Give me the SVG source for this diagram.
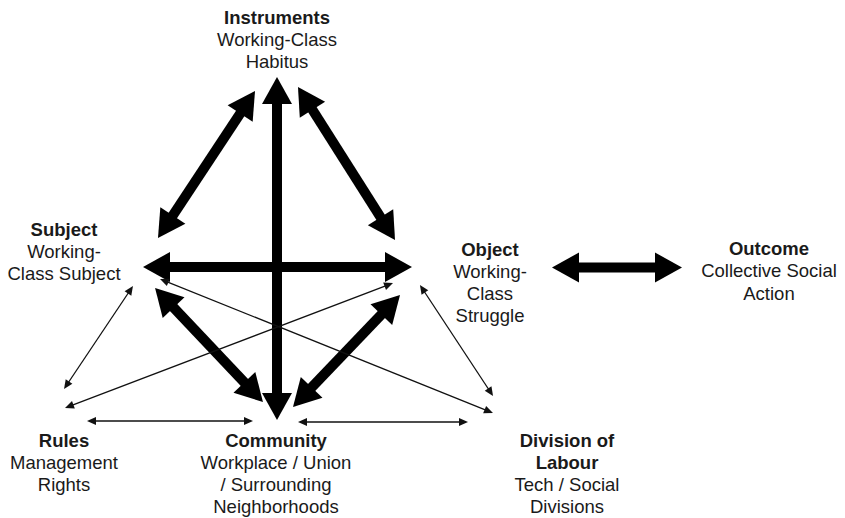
<svg xmlns="http://www.w3.org/2000/svg" width="845" height="518" viewBox="0 0 845 518">
<style>
text{font-family:"Liberation Sans",Arial,sans-serif;font-size:18.5px;fill:#1a1a1a;text-anchor:middle}
.b{font-weight:bold}
.thick{stroke:#000;stroke-width:10;fill:none;marker-start:url(#hb);marker-end:url(#hb)}
.thin{stroke:#111;stroke-width:1.3;fill:none;marker-start:url(#hs);marker-end:url(#hs)}
</style>
<defs>
<marker id="hb" markerUnits="userSpaceOnUse" markerWidth="30" markerHeight="32" viewBox="0 -16 28 32" refX="7" refY="0" orient="auto-start-reverse" overflow="visible">
<path d="M0,-15 L27,0 L0,15 z" fill="#000"/>
</marker>
<marker id="hs" markerUnits="userSpaceOnUse" markerWidth="10" markerHeight="10" viewBox="0 -5 10 10" refX="6" refY="0" orient="auto-start-reverse" overflow="visible">
<path d="M0,-4 L9,0 L0,4 z" fill="#111"/>
</marker>
</defs>
<rect width="845" height="518" fill="#fff"/>
<g id="connectors">
<line class="thick" x1="277" y1="97" x2="277" y2="400"/>
<line class="thick" x1="163" y1="267" x2="392" y2="267"/>
<line class="thick" x1="244" y1="107.7" x2="169" y2="221.3"/>
<line class="thick" x1="308.7" y1="103.9" x2="384.3" y2="223.1"/>
<line class="thick" x1="168.8" y1="302.5" x2="249.2" y2="387.5"/>
<line class="thick" x1="386.2" y1="309.5" x2="306.8" y2="392.5"/>
<line class="thick" x1="572" y1="267.5" x2="662" y2="267.5"/>
<line class="thin" x1="131.3" y1="288.5" x2="65.7" y2="386.5"/>
<line class="thin" x1="390.2" y1="284.1" x2="67.8" y2="406.9"/>
<line class="thin" x1="162.8" y1="280.1" x2="490.2" y2="411.9"/>
<line class="thin" x1="421.6" y1="287.5" x2="491.4" y2="393.5"/>
<line class="thin" x1="90" y1="421" x2="250" y2="421"/>
<line class="thin" x1="301" y1="422" x2="465" y2="422"/>
</g>
<g id="instruments">
<text class="b" x="277" y="24">Instruments</text>
<text x="277" y="46">Working-Class</text>
<text x="277" y="68">Habitus</text>
</g>
<g id="subject">
<text class="b" x="64" y="236">Subject</text>
<text x="64" y="258">Working-</text>
<text x="64" y="280">Class Subject</text>
</g>
<g id="object">
<text class="b" x="490" y="256">Object</text>
<text x="490" y="278">Working-</text>
<text x="490" y="300">Class</text>
<text x="490" y="322">Struggle</text>
</g>
<g id="outcome">
<text class="b" x="769" y="255">Outcome</text>
<text x="769" y="277">Collective Social</text>
<text x="769" y="300">Action</text>
</g>
<g id="rules">
<text class="b" x="64" y="447">Rules</text>
<text x="64" y="469">Management</text>
<text x="64" y="491">Rights</text>
</g>
<g id="community">
<text class="b" x="276" y="447">Community</text>
<text x="276" y="469">Workplace / Union</text>
<text x="276" y="491">/ Surrounding</text>
<text x="276" y="513">Neighborhoods</text>
</g>
<g id="division">
<text class="b" x="567" y="447">Division of</text>
<text class="b" x="567" y="469">Labour</text>
<text x="567" y="491">Tech / Social</text>
<text x="567" y="513">Divisions</text>
</g>
</svg>
